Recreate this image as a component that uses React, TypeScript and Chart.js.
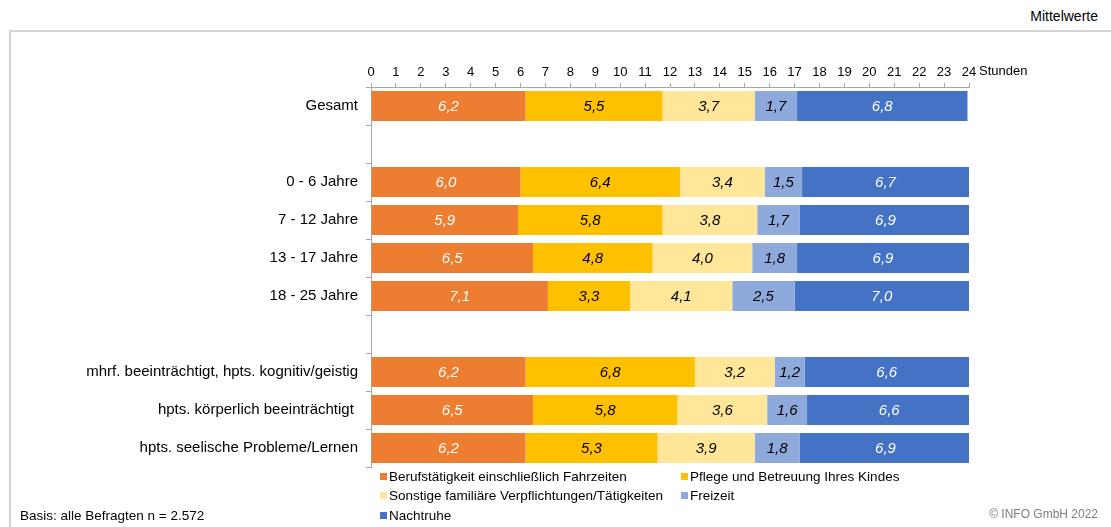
import React, { useEffect, useRef } from 'react';
import { Chart, registerables } from 'chart.js';

Chart.register(...registerables);

const categories = [
  'Gesamt',
  ' ',
  '0 - 6 Jahre',
  '7 - 12 Jahre',
  '13 - 17 Jahre',
  '18 - 25 Jahre',
  '  ',
  'mhrf. beeinträchtigt, hpts. kognitiv/geistig',
  'hpts. körperlich beeinträchtigt ',
  'hpts. seelische Probleme/Lernen',
];

const seriesNames = [
  'Berufstätigkeit einschließlich Fahrzeiten',
  'Pflege und Betreuung Ihres Kindes',
  'Sonstige familiäre Verpflichtungen/Tätigkeiten',
  'Freizeit',
  'Nachtruhe',
];

const seriesColors = ['#ED7D31', '#FFC000', '#FFE699', '#8EA9DB', '#4472C4'];
const labelColors = ['#FFFFFF', '#000000', '#000000', '#000000', '#FFFFFF'];

const beruf = [6.2, null, 6.0, 5.9, 6.5, 7.1, null, 6.2, 6.5, 6.2];
const pflege = [5.5, null, 6.4, 5.8, 4.8, 3.3, null, 6.8, 5.8, 5.3];
const sonstige = [3.7, null, 3.4, 3.8, 4.0, 4.1, null, 3.2, 3.6, 3.9];
const freizeit = [1.7, null, 1.5, 1.7, 1.8, 2.5, null, 1.2, 1.6, 1.8];
const nachtruhe = [6.84, null, 6.7, 6.9, 6.9, 7.0, null, 6.6, 6.6, 6.9];

const seriesValues = [beruf, pflege, sonstige, freizeit, nachtruhe];

const xTicks = [0, 1, 2, 3, 4, 5, 6, 7, 8, 9, 10, 11, 12, 13, 14, 15, 16, 17, 18, 19, 20, 21, 22, 23, 24];
const axisUnit = 'Stunden';

const FONT = "'Liberation Sans', Arial, Helvetica, sans-serif";
const GRID = '#A6A6A6';

const valueLabelPlugin = {
  id: 'valueLabels',
  afterDatasetsDraw(chart: any) {
    const ctx = chart.ctx;
    ctx.save();
    ctx.font = `italic 15px ${FONT}`;
    ctx.textAlign = 'center';
    ctx.textBaseline = 'middle';
    chart.data.datasets.forEach((ds: any, di: number) => {
      const meta = chart.getDatasetMeta(di);
      meta.data.forEach((bar: any, i: number) => {
        const v = ds.data[i];
        if (v === null || v === undefined) return;
        const cx = (bar.x + bar.base) / 2;
        ctx.fillStyle = labelColors[di];
        ctx.fillText(v.toFixed(1).replace('.', ','), cx, bar.y + 1);
      });
    });
    ctx.restore();
  },
};

const unitPlugin = {
  id: 'unitLabel',
  afterDraw(chart: any) {
    const ctx = chart.ctx;
    const xs = chart.scales.x;
    ctx.save();
    ctx.font = `13px ${FONT}`;
    ctx.fillStyle = '#000000';
    ctx.textAlign = 'left';
    ctx.textBaseline = 'middle';
    ctx.fillText(axisUnit, xs.right + 10, 71);
    ctx.restore();
  },
};

function ChartCanvas() {
  const ref = useRef<HTMLCanvasElement | null>(null);
  useEffect(() => {
    if (!ref.current) return;
    const chart = new Chart(ref.current, {
      type: 'bar',
      data: {
        labels: categories,
        datasets: seriesValues.map((vals, i) => ({
          label: seriesNames[i],
          data: vals,
          backgroundColor: seriesColors[i],
          borderWidth: 0,
          barPercentage: 0.79,
          categoryPercentage: 1,
        })),
      },
      options: {
        indexAxis: 'y',
        responsive: false,
        animation: false,
        maintainAspectRatio: false,
        layout: { padding: { left: 0, right: 142, top: 0, bottom: 60 } },
        plugins: {
          legend: { display: false },
          tooltip: { enabled: false },
        },
        scales: {
          x: {
            type: 'linear',
            position: 'top',
            stacked: true,
            min: 0,
            max: 24,
            afterFit: (s: any) => {
              s.height = 87;
            },
            afterBuildTicks: (s: any) => {
              s.ticks = xTicks.map((v) => ({ value: v }));
            },
            ticks: {
              stepSize: 1,
              autoSkip: false,
              maxRotation: 0,
              color: '#000000',
              font: { family: FONT, size: 13 },
              padding: 3,
            },
            grid: {
              drawOnChartArea: false,
              drawTicks: true,
              tickLength: 4,
              color: GRID,
            },
            border: { display: true, color: GRID, width: 1 },
          },
          y: {
            stacked: true,
            afterFit: (s: any) => {
              s.width = 371;
            },
            ticks: {
              color: '#000000',
              font: { family: FONT, size: 15 },
              padding: 8,
              autoSkip: false,
            },
            grid: {
              offset: true,
              drawOnChartArea: false,
              drawTicks: true,
              tickLength: 5,
              color: GRID,
            },
            border: { display: true, color: GRID, width: 1 },
          },
        },
      },
      plugins: [valueLabelPlugin, unitPlugin],
    } as any);
    return () => chart.destroy();
  }, []);
  return <canvas ref={ref} width={1111} height={527} style={{ position: 'absolute', left: 0, top: 0, width: 1111, height: 527 }} />;
}

const legendLayout = [
  { idx: 0, x: 380, y: 476 },
  { idx: 1, x: 681, y: 476 },
  { idx: 2, x: 380, y: 495 },
  { idx: 3, x: 681, y: 495 },
  { idx: 4, x: 380, y: 515 },
];

export default function App() {
  return (
    <div
      style={{
        position: 'absolute',
        left: 0,
        top: 0,
        width: 1111,
        height: 527,
        overflow: 'hidden',
        background: '#FFFFFF',
        fontFamily: FONT,
      }}
    >
      <div
        style={{
          position: 'absolute',
          left: 9,
          top: 30,
          width: 1111,
          height: 520,
          borderTop: '2px solid #D4D4D4',
          borderLeft: '2px solid #D4D4D4',
        }}
      />
      <div
        style={{
          position: 'absolute',
          right: 13,
          top: 8,
          fontSize: 14,
          lineHeight: '16px',
          color: '#000000',
        }}
      >
        Mittelwerte
      </div>
      <ChartCanvas />
      {legendLayout.map((l) => (
        <div
          key={l.idx}
          style={{
            position: 'absolute',
            left: l.x,
            top: l.y - 8,
            height: 16,
            display: 'flex',
            alignItems: 'center',
            fontSize: 13.5,
            color: '#000000',
            whiteSpace: 'pre',
          }}
        >
          <span
            style={{
              display: 'inline-block',
              width: 7,
              height: 7,
              background: seriesColors[l.idx],
              marginRight: 2,
            }}
          />
          {seriesNames[l.idx]}
        </div>
      ))}
      <div
        style={{
          position: 'absolute',
          left: 20,
          top: 508,
          fontSize: 13.5,
          lineHeight: '16px',
          color: '#000000',
        }}
      >
        Basis: alle Befragten n = 2.572
      </div>
      <div
        style={{
          position: 'absolute',
          right: 13,
          top: 506,
          fontSize: 12,
          lineHeight: '16px',
          color: '#7F7F7F',
        }}
      >
        © INFO GmbH 2022
      </div>
    </div>
  );
}
